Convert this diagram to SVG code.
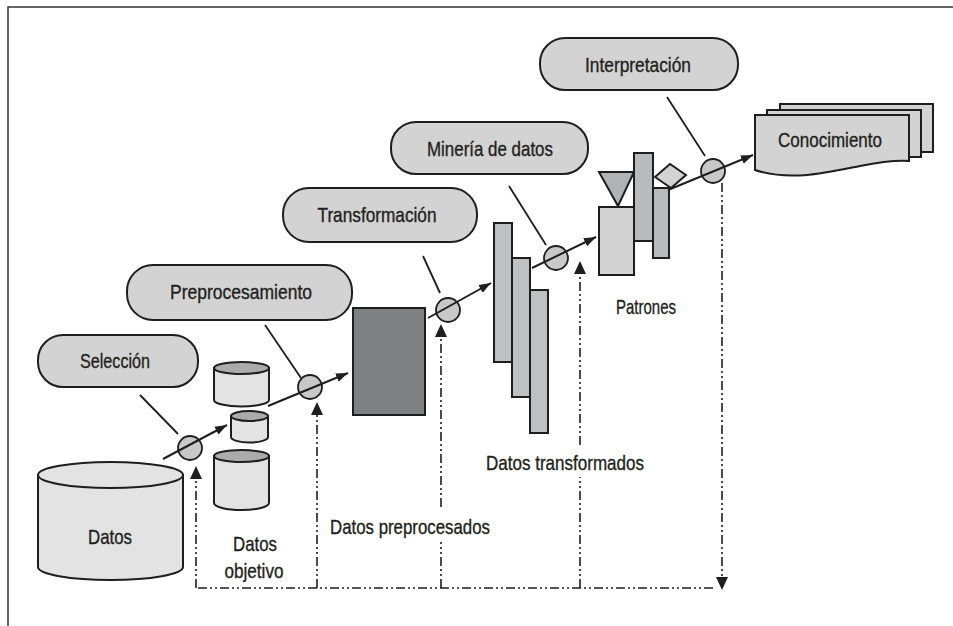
<svg xmlns="http://www.w3.org/2000/svg" width="953" height="626" viewBox="0 0 953 626">
<defs>
<style>
.pill{fill:#d3d3d3;stroke:#1e1e1e;stroke-width:2}
.t{font-family:"Liberation Sans",Arial,sans-serif;font-size:21px;fill:#231f20;stroke:#231f20;stroke-width:0.35;text-anchor:middle}
.ln{stroke:#1e1e1e;stroke-width:1.8;fill:none}
.ar{stroke:#1e1e1e;stroke-width:2;fill:none;marker-end:url(#ah)}
.dd{stroke:#1e1e1e;stroke-width:1.6;fill:none;stroke-dasharray:9 3 2 3 2 3}
.cir{fill:#c8c8c8;stroke:#1e1e1e;stroke-width:1.8}
.cyl{fill:#e3e3e3;stroke:#1e1e1e;stroke-width:2}
.cyltop{fill:#ababab;stroke:#1e1e1e;stroke-width:2}
.box{stroke:#1e1e1e;stroke-width:2}
.tip{fill:#1e1e1e}
</style>
<marker id="ah" markerUnits="userSpaceOnUse" markerWidth="13" markerHeight="10" refX="12" refY="5" orient="auto">
<path d="M0,0.5 L12,5 L0,9.5 z" fill="#1e1e1e"/>
</marker>
</defs>
<rect width="953" height="626" fill="#ffffff"/>
<path d="M8,626 L8,7 L953,7" stroke="#333" stroke-width="1.5" fill="none"/>

<g id="seleccion">
<rect class="pill" x="38" y="335" width="160" height="52" rx="25"/>
<text class="t" x="115" y="368" textLength="70" lengthAdjust="spacingAndGlyphs">Selección</text>
</g>
<g id="preprocesamiento">
<rect class="pill" x="127" y="265" width="225" height="55" rx="26"/>
<text class="t" x="241" y="299" textLength="142" lengthAdjust="spacingAndGlyphs">Preprocesamiento</text>
</g>
<g id="transformacion">
<rect class="pill" x="283" y="188" width="194" height="54" rx="26"/>
<text class="t" x="377" y="222" textLength="119" lengthAdjust="spacingAndGlyphs">Transformación</text>
</g>
<g id="mineria">
<rect class="pill" x="391" y="122" width="197" height="52" rx="25"/>
<text class="t" x="490" y="156" textLength="126" lengthAdjust="spacingAndGlyphs">Minería de datos</text>
</g>
<g id="interpretacion">
<rect class="pill" x="540" y="38" width="198" height="52" rx="25"/>
<text class="t" x="638" y="72" textLength="106" lengthAdjust="spacingAndGlyphs">Interpretación</text>
</g>

<g id="datos">
<path class="cyl" d="M38,475 L38,567 A72.5,13 0 0 0 183,567 L183,475 Z"/>
<ellipse class="cyl" cx="110.5" cy="475" rx="72.5" ry="13"/>
<text class="t" x="110" y="544" textLength="44" lengthAdjust="spacingAndGlyphs">Datos</text>
</g>

<g id="datos-objetivo">
<path class="cyl" d="M214,368 L214,400 A27.5,6.5 0 0 0 269,400 L269,368 Z"/>
<ellipse class="cyltop" cx="241.5" cy="368" rx="27.5" ry="6"/>
<path class="cyl" d="M231,416 L231,437 A18.5,5.5 0 0 0 268,437 L268,416 Z"/>
<ellipse class="cyltop" cx="249.5" cy="416" rx="18.5" ry="5"/>
<path class="cyl" d="M214,456 L214,503 A27.5,7 0 0 0 269,503 L269,456 Z"/>
<ellipse class="cyltop" cx="241.5" cy="456" rx="27.5" ry="6"/>
<text class="t" x="255" y="551" textLength="44" lengthAdjust="spacingAndGlyphs">Datos</text>
<text class="t" x="254" y="578" textLength="59" lengthAdjust="spacingAndGlyphs">objetivo</text>
</g>

<g id="datos-preprocesados">
<rect class="box" x="353" y="308" width="72" height="107" fill="#7e8083"/>
<text class="t" x="410" y="534" textLength="160" lengthAdjust="spacingAndGlyphs">Datos preprocesados</text>
</g>

<g id="datos-transformados">
<rect class="box" x="494" y="223" width="18" height="139" fill="#bfc0c2"/>
<rect class="box" x="512" y="258" width="18" height="139" fill="#bfc0c2"/>
<rect class="box" x="530" y="290" width="18" height="143" fill="#bfc0c2"/>
<text class="t" x="565" y="470" textLength="158" lengthAdjust="spacingAndGlyphs">Datos transformados</text>
</g>

<g id="patrones">
<polygon class="box" points="599,172 634,172 618,206" fill="#b1b2b4"/>
<rect class="box" x="599" y="207" width="35" height="68" fill="#d3d3d3"/>
<rect class="box" x="634" y="153" width="19" height="88" fill="#b9babc"/>
<polygon class="box" points="655,177 670,164 686,175 671,188" fill="#d3d3d3"/>
<rect class="box" x="653" y="188" width="16" height="70" fill="#b9babc"/>
<text class="t" x="646" y="314" textLength="60" lengthAdjust="spacingAndGlyphs">Patrones</text>
</g>

<g id="conocimiento">
<rect class="box" x="780" y="104" width="153" height="48" fill="#d3d3d3"/>
<rect class="box" x="767" y="110" width="154" height="47" fill="#d3d3d3"/>
<path class="box" d="M755,115 L909,115 L909,161 C895,160 880,162 860,166 C830,172 790,182 755,170 Z" fill="#d3d3d3"/>
<text class="t" x="830" y="147" textLength="104" lengthAdjust="spacingAndGlyphs">Conocimiento</text>
</g>

<g id="connectors">
<line class="ln" x1="140" y1="395" x2="178" y2="434"/>
<line class="ln" x1="265" y1="325" x2="301" y2="378"/>
<line class="ln" x1="423" y1="256" x2="440" y2="293"/>
<line class="ln" x1="509" y1="186" x2="546" y2="245"/>
<line class="ln" x1="667" y1="97" x2="705" y2="156"/>

<circle class="cir" cx="190" cy="448" r="12"/>
<circle class="cir" cx="310" cy="387" r="12"/>
<circle class="cir" cx="448" cy="310" r="12"/>
<circle class="cir" cx="556" cy="258" r="12"/>
<circle class="cir" cx="713" cy="171" r="12"/>

<line class="ar" x1="163" y1="459" x2="227" y2="425"/>
<line class="ar" x1="268" y1="406" x2="348" y2="373"/>
<line class="ar" x1="428" y1="318" x2="491" y2="283"/>
<line class="ar" x1="532" y1="268" x2="596" y2="237"/>
<line class="ar" x1="668" y1="190" x2="753" y2="155"/>

<path class="dd" d="M722,183 L722,580 M713,588 L196,588"/>
<path class="tip" d="M716,577 L722,590 L728,577 z"/>
<path class="dd" d="M196,588 L196,472"/>
<path class="tip" d="M190,479 L196,466 L202,479 z"/>
<path class="dd" d="M317,588 L317,408"/>
<path class="tip" d="M311,415 L317,402 L323,415 z"/>
<path class="dd" d="M441,588 L441,542 M441,507 L441,330"/>
<path class="tip" d="M435,337 L441,324 L447,337 z"/>
<path class="dd" d="M580,588 L580,477 M580,445 L580,267"/>
<path class="tip" d="M574,274 L580,261 L586,274 z"/>
</g>
</svg>
